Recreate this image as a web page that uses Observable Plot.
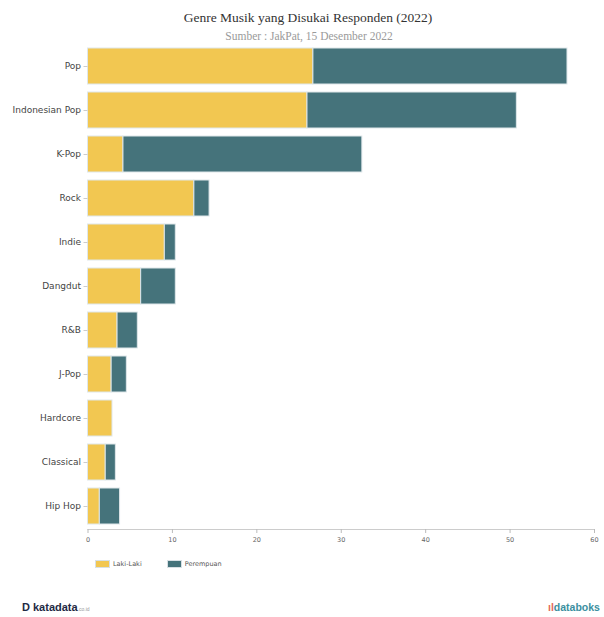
<!DOCTYPE html>
<html><head><meta charset="utf-8">
<script src="https://cdn.jsdelivr.net/npm/d3@7"></script>
<script src="https://cdn.jsdelivr.net/npm/@observablehq/plot@0.6"></script>
<style>
body{margin:0;background:#fff;width:604px;height:617px;position:relative;overflow:hidden;font-family:"DejaVu Sans",sans-serif;}
#title{position:absolute;top:10px;left:6px;width:604px;text-align:center;font-family:"Liberation Serif",serif;font-size:13.5px;color:#333;}
#sub{position:absolute;top:30px;left:7px;width:604px;text-align:center;font-family:"Liberation Serif",serif;font-size:11.5px;color:#9a9a9a;}
#chart{position:absolute;top:40px;left:0;}
#legend{position:absolute;top:560px;left:95px;font-size:6.5px;color:#555;display:flex;align-items:center;}
.sw{display:inline-block;width:15px;height:8px;margin-right:3px;border:1px solid #d8e0e4;box-sizing:border-box;}
#logo1{position:absolute;top:601px;left:22px;font-size:11px;font-weight:bold;color:#1f2a44;font-family:"Liberation Sans",sans-serif;}
#logo1 small{font-size:5px;font-weight:normal;color:#999;}
#logo2{position:absolute;top:601px;left:548px;font-size:10.5px;font-weight:bold;color:#3b8fa0;font-family:"Liberation Sans",sans-serif;white-space:nowrap;}
#logo2 span{color:#e46a5a;}
</style></head>
<body>
<div id="title">Genre Musik yang Disukai Responden (2022)</div>
<div id="sub">Sumber : JakPat, 15 Desember 2022</div>
<div id="chart"></div>
<div id="legend"><span class="sw" style="background:#F2C751"></span><span style="margin-right:25px">Laki-Laki</span><span class="sw" style="background:#45737B"></span><span>Perempuan</span></div>
<div id="logo1">D katadata<small>.co.id</small></div>
<div id="logo2"><span>ıl</span>databoks</div>
<script>
const genres = ["Pop","Indonesian Pop","K-Pop","Rock","Indie","Dangdut","R&B","J-Pop","Hardcore","Classical","Hip Hop"];
const lakiLaki = [26.7,26.0,4.2,12.6,9.1,6.3,3.5,2.8,2.9,2.1,1.4];
const perempuan = [30.1,24.8,28.3,1.8,1.3,4.1,2.4,1.8,0,1.2,2.4];
const seriesNames = ["Laki-Laki","Perempuan"];
const colors = ["#F2C751","#45737B"];
const xTicks = [0,10,20,30,40,50,60];

const data = [];
genres.forEach((g,i)=>{
  data.push({genre:g, series:seriesNames[0], value:lakiLaki[i]});
  data.push({genre:g, series:seriesNames[1], value:perempuan[i]});
});

const chart = Plot.plot({
  width:604, height:515,
  marginTop:4, marginBottom:26, marginLeft:87.5, marginRight:10,
  style:{fontFamily:"DejaVu Sans, sans-serif", background:"transparent"},
  x:{domain:[0,60], ticks:xTicks, label:null},
  y:{domain:genres, paddingInner:0.18, paddingOuter:0.09, label:null},
  color:{domain:seriesNames, range:colors},
  marks:[
    Plot.barX(data, Plot.stackX({x:"value", y:"genre", fill:"series", order:seriesNames, stroke:"#dfe7ea", strokeWidth:1, inset:0})),
    Plot.ruleX([0],{stroke:"#ddd", y1:null}),
    Plot.frame({anchor:"bottom", stroke:"#ccc"}),
    Plot.axisX({ticks:xTicks, tickSize:4, tickPadding:4, fontSize:6.5, color:"#666", stroke:"#bbb", label:null}),
    Plot.axisY({tickSize:4, tickPadding:3, fontSize:9, color:"#444", stroke:"#ccc", label:null})
  ]
});
document.getElementById("chart").appendChild(chart);
</script>
</body></html>
